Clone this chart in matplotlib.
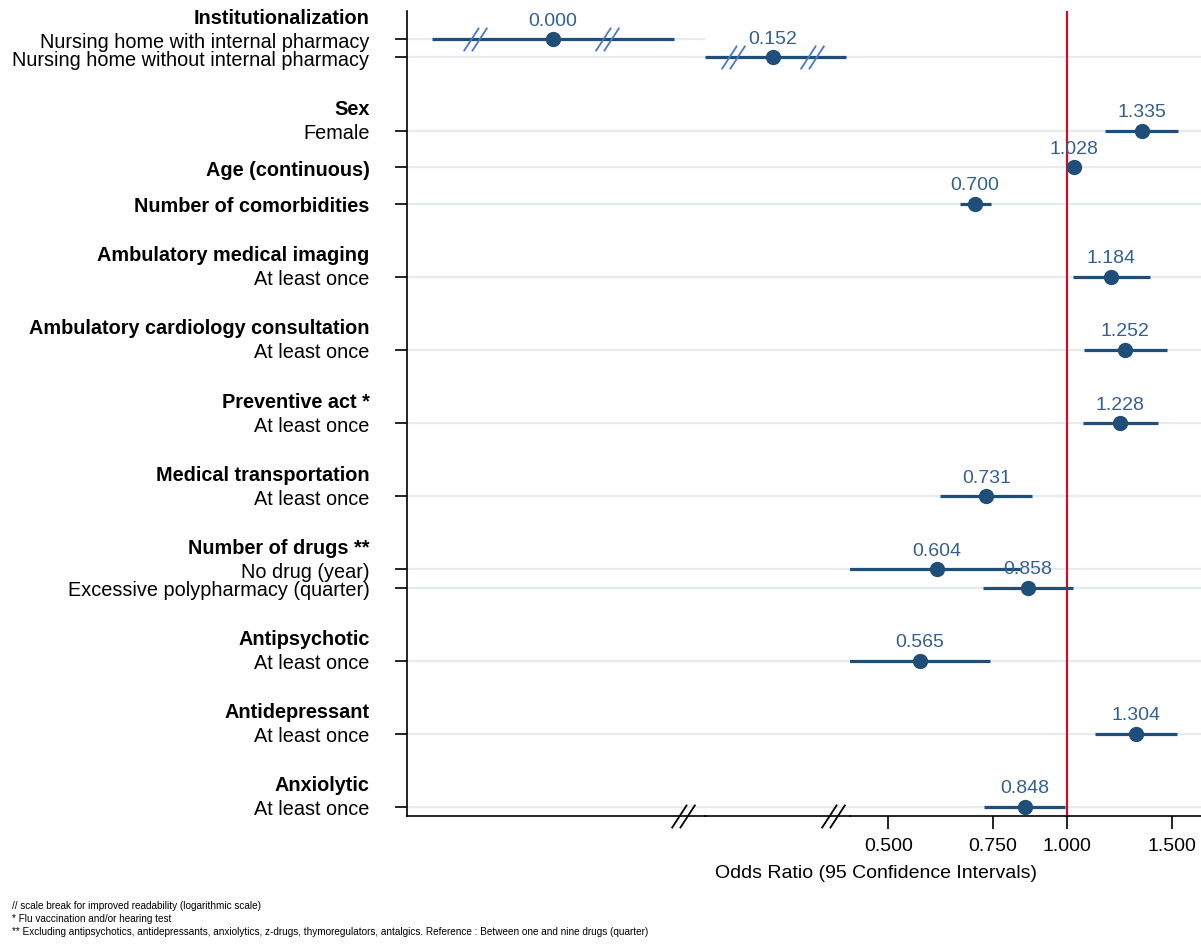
import numpy as np
import matplotlib.pyplot as plt
from matplotlib.path import Path
from matplotlib.transforms import ScaledTranslation

plt.rcParams['font.family'] = ['Liberation Sans', 'DejaVu Sans']

# groupes de variables (en-tete, modalites)
headers = ["Institutionalization", "Sex", "Age (continuous)", "Number of comorbidities",
           "Ambulatory medical imaging", "Ambulatory cardiology consultation",
           "Preventive act *", "Medical transportation", "Number of drugs **",
           "Antipsychotic", "Antidepressant", "Anxiolytic"]
items = [["Nursing home with internal pharmacy", "Nursing home without internal pharmacy"],
         ["Female"], [], [],
         ["At least once"], ["At least once"], ["At least once"], ["At least once"],
         ["No drug (year)", "Excessive polypharmacy (quarter)"],
         ["At least once"], ["At least once"], ["At least once"]]

odds = [0.0004, 0.152, 1.335, 1.028, 0.700, 1.184, 1.252, 1.228, 0.731,
        0.604, 0.858, 0.565, 1.304, 0.848]
ci_low = [0.00025, 0.117, 1.16, 1.021, 0.66, 1.023, 1.068, 1.064, 0.611,
          0.43, 0.722, 0.43, 1.115, 0.725]
ci_high = [0.00064, 0.202, 1.54, 1.035, 0.745, 1.379, 1.473, 1.423, 0.873,
           0.833, 1.024, 0.742, 1.532, 0.992]

xticks = [0.5, 0.75, 1.0, 1.5]
footnotes = ["// scale break for improved readability (logarithmic scale)",
             "* Flu vaccination and/or hearing test",
             "** Excluding antipsychotics, antidepressants, anxiolytics, z-drugs, thymoregulators, "
             "antalgics. Reference : Between one and nine drugs (quarter)"]

dark = "#1f4e79"
lbl_col = "#34608f"
brk_col = "#4a78c8"
grid_col = "#e4ecee"
red = "#c8102e"

# positions des lignes
ypos, ylabels, ybold, head_pos = [], [], [], []
y = 0.0
for i, (h, its) in enumerate(zip(headers, items)):
    if its:
        if i > 0:
            y += 2
        head_pos.append((h, y))
        for k, it in enumerate(its):
            ypos.append(y + 0.5 * k)
            ylabels.append(it)
            ybold.append(False)
        y = ypos[-1]
    else:
        y += 1
        ypos.append(y)
        ylabels.append(h)
        ybold.append(True)

W, H = 1201, 945
fig = plt.figure(figsize=(W / 100, H / 100), dpi=100)


def box(x0, x1, y0=12, y1=817):
    return [x0 / W, 1 - y1 / H, (x1 - x0) / W, (y1 - y0) / H]


ax1 = fig.add_axes(box(407, 705))
ax2 = fig.add_axes(box(705, 850))
ax3 = fig.add_axes(box(850, W))
axes = [ax1, ax2, ax3]
lims = [(0.000227, 0.000721), (0.1168, 0.2049), (0.431, 1.681)]

brk = Path([(-1, -1), (0.3, 1), (-0.3, -1), (1, 1)],
           [Path.MOVETO, Path.LINETO, Path.MOVETO, Path.LINETO])

for a, lim in zip(axes, lims):
    a.set_xscale('log')
    a.set_xlim(*lim)
    a.set_ylim(21.25, -0.77)
    for s in ['top', 'right', 'left']:
        a.spines[s].set_visible(False)
    a.spines['bottom'].set_linewidth(1.2)
    a.set_xticks([])
    a.set_xticks([], minor=True)
    a.set_yticks([])
    a.set_facecolor('none')

ax1.spines['left'].set_visible(True)
ax1.spines['left'].set_linewidth(1.2)

# lignes horizontales
for j, yy in enumerate(ypos):
    for a in axes:
        if j == 0 and a is not ax1:
            continue
        a.axhline(yy, color=grid_col, lw=1.6, zorder=0)

ax3.axvline(1.0, color=red, lw=1.6, zorder=1.5)

for j, (o, lo, hi) in enumerate(zip(odds, ci_low, ci_high)):
    a = [ax for ax, lim in zip(axes, lims) if lim[0] <= o <= lim[1]][0]
    a.plot([lo, hi], [ypos[j], ypos[j]], color=dark, lw=2.3, zorder=2, solid_capstyle='butt')
    a.plot(o, ypos[j], 'o', color=dark, ms=10, zorder=3)
    a.annotate(f"{o:.3f}", (o, ypos[j]), xytext=(0, 7.5), textcoords='offset points',
               ha='center', va='bottom', fontsize=14, color=lbl_col, zorder=4)

# coupures d'echelle sur les barres
for a, xs, yy in [(ax1, [0.228, 0.671], ypos[0]), (ax2, [0.193, 0.738], ypos[1])]:
    a.plot(xs, [yy] * 2, ls='none', marker=brk, ms=17, mfc='none', mec=brk_col,
           mew=1.3, transform=a.get_yaxis_transform(), zorder=5)
# coupures sur l'axe
for a, xx in [(ax1, 0.926), (ax2, 0.883)]:
    a.plot([xx], [0], ls='none', marker=brk, ms=17, mfc='none', mec='black',
           mew=1.3, transform=a.transAxes, clip_on=False, zorder=5)

# axe y
ax1.set_yticks(ypos)
ax1.set_yticklabels(ylabels, fontsize=14.3)
for t, b in zip(ax1.get_yticklabels(), ybold):
    if b:
        t.set_fontweight('bold')
ax1.tick_params(axis='y', length=9, width=1.2, pad=18)
off = ScaledTranslation(-27 / 72, 0, fig.dpi_scale_trans)
for h, yy in head_pos:
    ax1.text(0, yy - 0.6, h, transform=ax1.get_yaxis_transform() + off,
             ha='right', va='center', fontsize=14.3, fontweight='bold')

# axe x
ax3.set_xticks(xticks)
ax3.set_xticklabels([f"{v:.3f}" for v in xticks], fontsize=14)
ax3.tick_params(axis='x', length=9, width=1.2, pad=6)
fig.text(876 / W, 1 - 873 / H, "Odds Ratio (95 Confidence Intervals)",
         ha='center', va='center', fontsize=14)

for k, t in enumerate(footnotes):
    fig.text(12 / W, 1 - (906 + 13 * k) / H, t, ha='left', va='center', fontsize=7.2)

fig.savefig('out.png', dpi=100)
